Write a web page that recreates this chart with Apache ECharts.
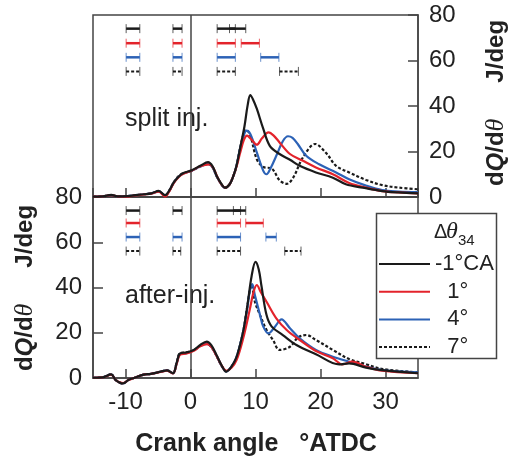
<!DOCTYPE html>
<html>
<head>
<meta charset="utf-8">
<script src="https://cdn.jsdelivr.net/npm/echarts@6/dist/echarts.min.js"></script>
<style>
  html, body { margin: 0; padding: 0; background: #fff; }
  #main { width: 510px; height: 464px; }
</style>
</head>
<body>
<div id="main"></div>
<script>
// heat release rate, split injection (upper panel)  [crank angle, dQ/dθ]
var splitM1 = [[-15,0.2],[-13.5,0.3],[-12.2,0.9],[-11.2,0.3],[-9.7,0.4],[-8.5,0.8],[-7.2,1.2],[-6,1.6],[-4.9,2.7],[-3.9,0.8],[-3.2,3.2],[-2.6,6.3],[-1.8,9],[-1.1,10.5],[0.2,11.8],[1.5,13.7],[2.7,15.3],[3.4,13.5],[4.0,9.5],[4.7,6],[5.3,4.1],[6.0,5.5],[6.6,9.3],[7.1,14],[7.6,21],[8.3,31],[8.8,40.5],[9.2,44.8],[9.6,43],[10.2,38.8],[11.2,29.9],[12.2,22.5],[13.7,18.9],[15.3,16.4],[16.8,13.7],[19.3,10.8],[21.9,8.5],[23.9,5.6],[26.5,4.1],[29.5,2.6],[32,2],[35,1.6]];
var split1 = [[-15,0.2],[-13.5,0.3],[-12.2,0.8],[-11.2,0.3],[-9.7,0.2],[-8.5,0.7],[-7.2,1.1],[-6,1.5],[-4.9,2.4],[-3.9,0.2],[-3.2,2.8],[-2.6,6],[-1.8,8.8],[-1.1,10.2],[0.2,11.6],[1.5,13.5],[2.9,14.3],[3.5,12.8],[4.1,9],[4.7,5.8],[5.3,4.1],[6.0,5.5],[6.6,9.3],[7.1,13.5],[7.6,19],[8.2,25],[8.7,27],[9.3,25.5],[10.2,23],[11,25.8],[12.0,28.4],[12.8,27],[13.7,24],[15.3,18.9],[17.3,15.9],[19.3,13],[21.9,10],[24.4,6.2],[27,4.1],[29.5,2.6],[32,2],[35,1.6]];
var split4 = [[-15,0.2],[-13.5,0.3],[-12.2,0.8],[-11.2,0.3],[-9.7,0.4],[-8.5,0.8],[-7.2,1.2],[-6,1.6],[-4.9,2.5],[-3.9,0.7],[-3.2,3],[-2.6,6.2],[-1.8,9],[-1.1,10.3],[0.2,11.6],[1.5,13.4],[2.7,14.5],[3.4,13],[4.0,9.2],[4.7,5.8],[5.3,4.0],[6.0,5.5],[6.6,9.3],[7.1,14],[7.6,21],[8.2,27],[8.6,29.2],[9.2,27.7],[10.2,19.6],[11.2,11.5],[11.7,10],[12.3,12.5],[13.2,18.1],[14.2,24.5],[15.0,26.7],[15.7,26],[16.5,23.3],[17.8,18.1],[19.8,14.4],[22.4,10.8],[24.4,7.8],[27,5],[29.5,3],[32,2.4],[35,2.1]];
var split7 = [[-15,0.2],[-13.5,0.3],[-12.2,0.8],[-11.2,0.3],[-9.7,0.4],[-8.5,0.8],[-7.2,1.2],[-6,1.6],[-4.9,2.5],[-3.9,0.7],[-3.2,3],[-2.6,6.4],[-1.8,9.2],[-1.1,10.5],[0.2,11.6],[1.5,13.4],[2.7,14.6],[3.4,13],[4.0,9.2],[4.7,5.8],[5.3,4.0],[6.0,5.5],[6.6,9.3],[7.1,14],[7.6,21],[8.2,28],[8.6,29.5],[9.2,27],[10.2,16.6],[11.2,13.2],[12.5,12.5],[13.7,7.4],[14.8,5.8],[15.8,8.5],[17.3,17.4],[19.2,23.3],[20.9,19.2],[22.4,13.7],[24.4,10.8],[27,7.5],[29.5,5.2],[32.1,4.1],[35,3.4]];

// heat release rate, after-injection (lower panel)
var afterM1 = [[-15,0.1],[-13.5,0.3],[-12.2,1.6],[-11.5,-0.9],[-10.4,-2.4],[-9.5,-0.8],[-8.7,0],[-7.2,1.5],[-6.1,1.8],[-4.6,2.8],[-3.6,3.4],[-2.7,2.1],[-2.1,7],[-1.6,10.9],[-0.6,11.3],[0.5,12.4],[1.5,14.6],[2.5,16.1],[3.2,14.5],[4.0,10.2],[4.8,5.5],[5.5,2.8],[6.3,5],[7.1,9.4],[8.1,20.5],[8.8,33],[9.4,45],[10.0,51.3],[10.5,48],[10.9,41],[11.7,27.8],[12.5,22.7],[14.2,19],[16.3,14.6],[19.3,10.5],[22.9,6],[24.4,6.5],[27,4.6],[29.5,3.5],[35,2.1]];
var after1 = [[-15,0.1],[-13.5,0.3],[-12.2,1.5],[-11.5,-0.9],[-10.4,-2.3],[-9.5,-0.8],[-8.7,0],[-7.2,1.5],[-6.1,1.8],[-4.6,2.7],[-3.6,3.3],[-2.7,2],[-2.1,6.5],[-1.6,10.3],[-0.6,10.8],[0.5,12],[1.5,14],[2.6,15],[3.3,13.5],[4.0,9.8],[4.8,5.5],[5.5,3.2],[6.3,4.5],[7.1,8],[8.1,17.5],[9.1,30],[9.7,38],[10.2,41.1],[10.8,38],[11.7,33.7],[13.2,26.4],[14.8,21.2],[16.8,16.8],[19.3,11.9],[21.9,8.7],[23.4,6],[24.9,7.2],[27,5],[29.5,3.2],[35,2.1]];
var after4 = [[-15,0.1],[-13.5,0.3],[-12.2,1.6],[-11.5,-0.9],[-10.4,-2.4],[-9.5,-0.8],[-8.7,0],[-7.2,1.5],[-6.1,1.8],[-4.6,2.8],[-3.6,3.4],[-2.7,2.1],[-2.1,6.8],[-1.6,10.6],[-0.6,11],[0.5,12.2],[1.5,14.2],[2.4,15.2],[3.2,13.8],[4.0,9.8],[4.8,5.3],[5.5,2.9],[6.3,5],[7.1,9.4],[8.1,20.5],[8.7,30],[9.1,38.1],[9.5,41.5],[9.9,36.7],[10.7,27.8],[11.2,22.7],[12.0,19.7],[13.0,22.7],[14.0,25.9],[15.3,22],[16.8,17.5],[19.3,12.4],[21.9,9.4],[24.4,7.2],[27,5],[29.5,3.5],[35,2.5]];
var after7 = [[-15,0.1],[-13.5,0.3],[-12.2,1.6],[-11.5,-0.9],[-10.4,-2.4],[-9.5,-0.8],[-8.7,0],[-7.2,1.5],[-6.1,1.8],[-4.6,2.8],[-3.6,3.4],[-2.7,2.1],[-2.1,7.2],[-1.6,11],[-0.6,11.3],[0.5,12.2],[1.5,14.2],[2.4,15.2],[3.2,13.8],[4.0,9.8],[4.8,5.3],[5.5,2.9],[6.3,5],[7.1,9.4],[8.1,20.5],[8.7,31],[9.4,41],[9.9,33.7],[10.7,27.8],[11.7,21.2],[12.7,16.8],[13.7,12.4],[15.3,13.8],[16.5,17.8],[17.8,19],[19.3,16.8],[21.9,12.4],[24.4,8.4],[27,6.1],[29.5,4],[35,2.5]];

// injection periods [start, end] in crank angle, one list per case
var splitInjM1 = [[-9.9,-7.8],[-2.7,-1.3],[4.1,6.9],[6.0,8.5]];
var splitInj1 = [[-9.9,-7.8],[-2.7,-1.3],[4.1,6.9],[7.8,10.6]];
var splitInj4 = [[-9.9,-7.8],[-2.7,-1.3],[4.1,6.9],[10.8,13.6]];
var splitInj7 = [[-9.9,-7.8],[-2.7,-1.3],[4.1,6.9],[13.7,16.6]];
var afterInjM1 = [[-9.9,-7.8],[-2.7,-1.3],[4.1,7.7],[6.6,8.5]];
var afterInj1 = [[-9.9,-7.8],[4.1,7.7],[8.5,11.2]];
var afterInj4 = [[-9.9,-7.8],[-2.7,-1.3],[4.1,7.7],[11.6,13.2]];
var afterInj7 = [[-9.9,-7.8],[-2.7,-1.5],[4.1,7.7],[14.5,17.0]];
// row heights (y value) where injection bars are drawn
var splitRows = [74, 67.6, 61.4, 55.2];
var afterRows = [74, 68.5, 62.3, 56.1];

var caseNames = ['-1°CA', '1°', '4°', '7°'];
var caseColors = ['#1a1a1a', '#e3232b', '#2c62b6', '#1a1a1a'];
var xTicks = [-10, 0, 10, 20, 30];

var frameColor = '#444';
var font = 'Liberation Sans';

var myChart = echarts.init(document.getElementById('main'));

function lineSeries(name, data, idx, grid, withZero) {
  var s = {
    name: name,
    type: 'line',
    xAxisIndex: grid,
    yAxisIndex: grid,
    data: data,
    smooth: 0.35,
    showSymbol: false,
    symbol: 'none',
    clip: false,
    z: 3 + (3 - idx),
    lineStyle: {
      color: caseColors[idx],
      width: 2.2,
      type: idx == 3 ? [3, 2] : 'solid'
    },
    itemStyle: { color: caseColors[idx] }
  };
  if (withZero) {
    s.markLine = {
      silent: true,
      symbol: 'none',
      label: { show: false },
      lineStyle: { color: frameColor, width: 1.5, type: 'solid' },
      data: [{ xAxis: 0 }]
    };
  }
  return s;
}

function injSeries(list, row, idx, grid) {
  var data = [];
  for (var i in list) {
    data.push([list[i][0], list[i][1], row]);
  }
  return {
    type: 'custom',
    name: 'inj' + grid + idx,
    xAxisIndex: grid,
    yAxisIndex: grid,
    encode: { x: [0, 1], y: 2 },
    silent: true,
    data: data,
    renderItem: function (params, api) {
      var a = api.coord([api.value(0), api.value(2)]);
      var b = api.coord([api.value(1), api.value(2)]);
      var h = 4.5;
      var c = caseColors[idx];
      return {
        type: 'group',
        children: [
          { type: 'line', shape: { x1: a[0], y1: a[1], x2: b[0], y2: b[1] },
            style: { stroke: c, lineWidth: idx == 3 ? 2 : 2.5, lineDash: idx == 3 ? [3, 2] : null } },
          { type: 'line', shape: { x1: a[0], y1: a[1] - h, x2: a[0], y2: a[1] + h },
            style: { stroke: c, lineWidth: 1, opacity: 0.7 } },
          { type: 'line', shape: { x1: b[0], y1: b[1] - h, x2: b[0], y2: b[1] + h },
            style: { stroke: c, lineWidth: 1, opacity: 0.7 } }
        ]
      };
    }
  };
}

function xAxisOf(grid, labels) {
  return {
    type: 'value',
    gridIndex: grid,
    min: -15,
    max: 35,
    splitNumber: 5,
    minInterval: 10,
    maxInterval: 10,
    axisLine: { show: true, onZero: false, lineStyle: { color: frameColor, width: 1.5 } },
    axisTick: { show: true, inside: true, length: 9, lineStyle: { color: frameColor, width: 1.5 } },
    splitLine: { show: false },
    axisLabel: {
      show: labels,
      showMinLabel: false,
      showMaxLabel: false,
      margin: 12,
      color: '#222',
      fontFamily: font,
      fontSize: 24,
      formatter: function (v) { return xTicks.indexOf(v) >= 0 ? String(v) : ''; }
    }
  };
}

function yAxisOf(grid, pos) {
  return {
    type: 'value',
    gridIndex: grid,
    position: pos,
    min: 0,
    max: 80,
    interval: 20,
    axisLine: { show: true, onZero: false, lineStyle: { color: frameColor, width: 1.5 } },
    axisTick: { show: true, inside: true, length: 10, lineStyle: { color: frameColor, width: 1.5 } },
    splitLine: { show: false },
    axisLabel: { margin: 11, color: '#222', fontFamily: font, fontSize: 24 }
  };
}

var series = [
  lineSeries(caseNames[3], split7, 3, 0, false),
  lineSeries(caseNames[2], split4, 2, 0, false),
  lineSeries(caseNames[1], split1, 1, 0, false),
  lineSeries(caseNames[0], splitM1, 0, 0, true),
  lineSeries(caseNames[3], after7, 3, 1, false),
  lineSeries(caseNames[2], after4, 2, 1, false),
  lineSeries(caseNames[1], after1, 1, 1, false),
  lineSeries(caseNames[0], afterM1, 0, 1, true),
  injSeries(splitInjM1, splitRows[0], 0, 0),
  injSeries(splitInj1, splitRows[1], 1, 0),
  injSeries(splitInj4, splitRows[2], 2, 0),
  injSeries(splitInj7, splitRows[3], 3, 0),
  injSeries(afterInjM1, afterRows[0], 0, 1),
  injSeries(afterInj1, afterRows[1], 1, 1),
  injSeries(afterInj4, afterRows[2], 2, 1),
  injSeries(afterInj7, afterRows[3], 3, 1)
];

var yTitleRich = {
  b: { fontFamily: font, fontWeight: 'bold', fontSize: 24, fill: '#222' },
  q: { fontFamily: font, fontWeight: 'bold', fontStyle: 'italic', fontSize: 24, fill: '#222' },
  t: { fontFamily: 'Liberation Serif', fontStyle: 'italic', fontSize: 26, fill: '#222' },
  j: { fontFamily: font, fontWeight: 'bold', fontSize: 24, fill: '#222', padding: [0, 0, 0, 36] }
};
var yTitle = '{b|d}{q|Q}{b|/d}{t|θ}{j|J/deg}';

myChart.setOption({
  animation: false,
  backgroundColor: '#fff',
  textStyle: { fontFamily: font },
  grid: [
    { left: 93, top: 15, width: 325, height: 182, show: true, borderColor: frameColor, borderWidth: 1.5 },
    { left: 93, top: 197, width: 325, height: 181, show: true, borderColor: frameColor, borderWidth: 1.5 }
  ],
  xAxis: [
    xAxisOf(0, false),
    xAxisOf(1, true)
  ],
  yAxis: [
    yAxisOf(0, 'right'),
    yAxisOf(1, 'left')
  ],
  legend: {
    data: caseNames,
    orient: 'vertical',
    left: 378,
    top: 253,
    padding: 0,
    z: 12,
    selectedMode: false,
    itemWidth: 51,
    itemHeight: 14,
    itemGap: 5.7,
    itemStyle: { opacity: 0 },
    textStyle: { fontFamily: font, fontSize: 22, color: '#222', lineHeight: 22 },
    formatter: function (name) {
      return name == caseNames[0] ? name : '  ' + name;
    }
  },
  graphic: [
    { type: 'rect', z: 10, shape: { x: 376.5, y: 213.5, width: 120, height: 145 },
      style: { fill: '#fff', stroke: frameColor, lineWidth: 1.5 } },
    { type: 'text', z: 12, x: 434, y: 232,
      style: { text: 'Δ', fontFamily: font, fontSize: 20, fill: '#222', verticalAlign: 'middle' } },
    { type: 'text', z: 12, x: 446, y: 232,
      style: { text: 'θ', fontFamily: 'Liberation Serif', fontStyle: 'italic', fontSize: 24, fill: '#222', verticalAlign: 'middle' } },
    { type: 'text', z: 12, x: 458, y: 241,
      style: { text: '34', fontFamily: font, fontSize: 15, fill: '#222', verticalAlign: 'middle' } },
    { type: 'text', z: 5, x: 125, y: 119,
      style: { text: 'split inj.', fontFamily: font, fontSize: 25, fill: '#222', verticalAlign: 'middle' } },
    { type: 'text', z: 5, x: 125, y: 296,
      style: { text: 'after-inj.', fontFamily: font, fontSize: 25, fill: '#222', verticalAlign: 'middle' } },
    { type: 'text', z: 5, x: 256, y: 444,
      style: { text: 'Crank angle   °ATDC', fontFamily: font, fontWeight: 'bold', fontSize: 25, fill: '#222', align: 'center', verticalAlign: 'middle' } },
    { type: 'text', z: 5, x: 25, y: 288, rotation: Math.PI / 2,
      style: { text: yTitle, rich: yTitleRich, fontFamily: font, fontSize: 24, align: 'center', verticalAlign: 'middle' } },
    { type: 'text', z: 5, x: 496, y: 103, rotation: Math.PI / 2,
      style: { text: yTitle, rich: yTitleRich, fontFamily: font, fontSize: 24, align: 'center', verticalAlign: 'middle' } }
  ],
  series: series
});
</script>
</body>
</html>
